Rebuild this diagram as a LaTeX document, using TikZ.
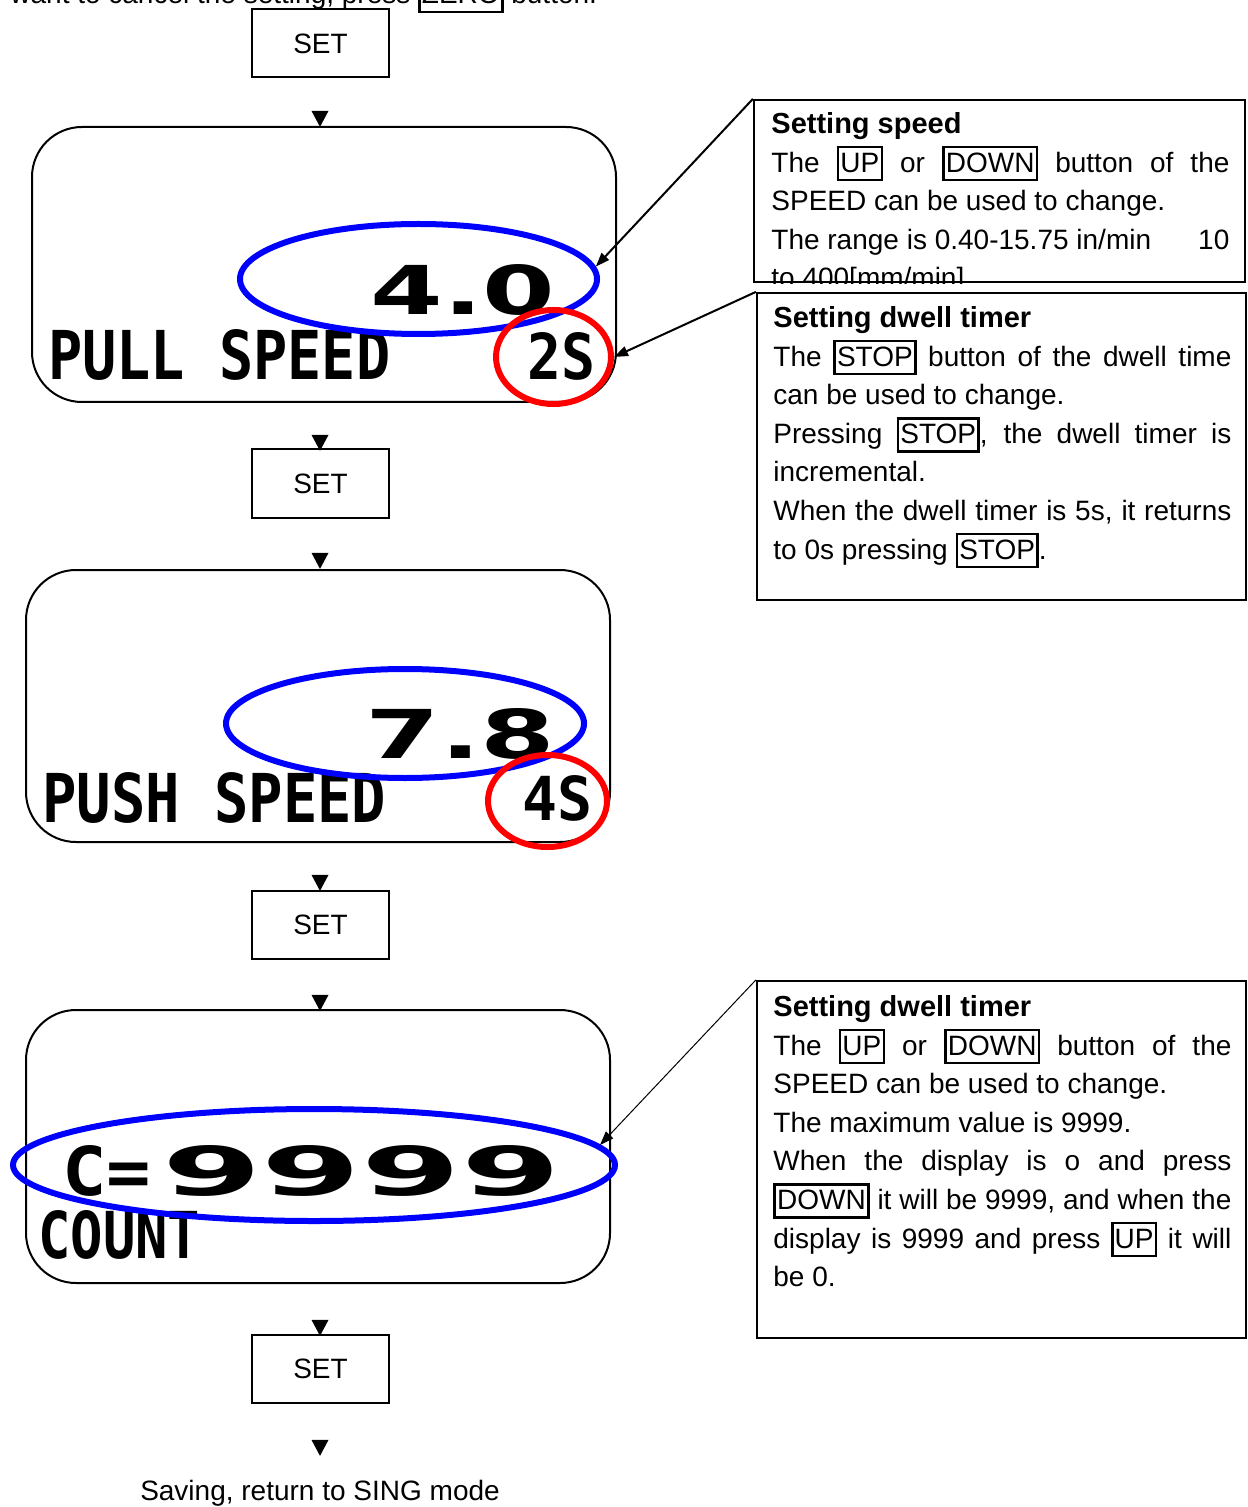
\documentclass[tikz,border=0pt]{standalone}
\usepackage{graphicx}
\usepackage{fontspec}
\setmainfont{Liberation Sans}
\newfontfamily\lcdfont{DejaVu Sans Mono}
\newfontfamily\lcdnumfont{DejaVu Sans}
\usetikzlibrary{arrows.meta,shapes.geometric,fit}
\definecolor{RingBlue}{HTML}{0000FF}
\definecolor{RingRed}{HTML}{FF0000}
\newcommand\btn[1]{{\setlength\fboxsep{0.6pt}\setlength\fboxrule{1.3pt}\fbox{\rule[-0.2em]{0pt}{1em}#1}}}
\newcommand\lcd[3]{\resizebox{#1}{#2}{\lcdfont\bfseries #3}}
\newcommand\lcdnum[3]{\resizebox{#1}{#2}{\lcdnumfont\bfseries #3}}
\newcommand\headfont{\bfseries\fontsize{14.5}{19.3}\selectfont}
\tikzset{
  setbox/.style={draw,line width=1pt,minimum width=68.5pt,minimum height=34pt,inner sep=0},
  downtri/.style={isosceles triangle,isosceles triangle apex angle=50,isosceles triangle stretches=true,shape border rotate=270,fill=black,draw=none,inner sep=0,minimum width=8.5pt,minimum height=8pt},
  display/.style={draw,line width=1pt,rounded corners=25pt,inner sep=0},
  lcdtext/.style={anchor=base west,inner sep=0},
  blueband/.style={ellipse,draw=RingBlue,line width=3pt,inner sep=0},
  redring/.style={ellipse,draw=RingRed,line width=3pt,inner sep=0},
  notebox/.style={draw,line width=1.1pt,inner sep=0},
  notetext/.style={anchor=north west,inner sep=0,text width=229pt,align=justify},
  callout/.style={-{Triangle[length=7pt,width=5pt]},line width=1pt},
  thincallout/.style={-{Triangle[length=7pt,width=5pt]},line width=.5pt}
}

\begin{document}
\begin{tikzpicture}[x=.5pt,y=-.5pt,font=\fontsize{14}{19.3}\selectfont]
  \useasboundingbox (0,0) rectangle (1247,1507);
  % cut-off line from the page above
  \node[anchor=base west,inner sep=0] (hint) at (10,4) {want to cancel the setting, press \btn{ZERO} button.};

  % flow of SET presses
  \node[setbox] (set1) at (320.5,43.5) {SET};
  \node[setbox] (set2) at (320.5,483.5) {SET};
  \node[setbox] (set3) at (320.5,925) {SET};
  \node[setbox] (set4) at (320.5,1369) {SET};
  \foreach \ty [count=\k] in {116,440,558,880,1000,1325,1445}
    \node[downtri] (tri\k) at (320,\ty) {};
  \node[anchor=base] (save) at (320,1500) {Saving, return to SING mode};

  % LCD screens
  \node[display,fit={(32,127) (616,402)}] (pullscreen) {};
  \node[lcdtext] (pulllabel) at (48,380) {\lcd{171pt}{25pt}{PULL SPEED}};
  \node[lcdtext] (pullvalue) at (370,315) {\lcdnum{92.5pt}{25pt}{4.0}};
  \node[lcdtext] (pulldwell) at (527,380) {\lcd{34pt}{23.5pt}{2S}};
  \node[blueband,minimum width=178.5pt,minimum height=55pt] (pullband) at (418.5,279) {};
  \node[redring,minimum width=57.5pt,minimum height=47pt] (pullring) at (553.5,357) {};

  \node[display,fit={(26,570) (610,842)}] (pushscreen) {};
  \node[lcdtext] (pushlabel) at (42,822) {\lcd{172pt}{25pt}{PUSH SPEED}};
  \node[lcdtext] (pushvalue) at (365,758) {\lcdnum{95pt}{25pt}{7.8}};
  \node[lcdtext] (pushdwell) at (522,820) {\lcd{35pt}{22.5pt}{4S}};
  \node[blueband,minimum width=179pt,minimum height=54.5pt] (pushband) at (405,723.5) {};
  \node[redring,minimum width=59.5pt,minimum height=46pt] (pushring) at (547.5,801) {};

  \node[display,fit={(26,1010) (610,1283)}] (countscreen) {};
  \node[lcdtext] (countvalue) at (62,1195) {\lcd{44.5pt}{25pt}{C=}\hspace{5.5pt}\lcdnum{199pt}{25pt}{9999}};
  \node[lcdtext] (countlabel) at (38,1258) {\lcd{81pt}{24pt}{COUNT}};
  \node[blueband,minimum width=301pt,minimum height=56pt] (countband) at (314,1165) {};

  % notes
  \node[notebox,fit={(754,100) (1245,282)}] (speednote) {};
  \begin{scope}
    \clip (speednote.north west) rectangle (speednote.south east);
    \node[notetext] (speedtext) at (771,112) {{\headfont Setting speed}\newline
      The \btn{UP} or \btn{DOWN} button of the\linebreak
      SPEED can be used to change.\newline
      The range is 0.40-15.75 in/min\hfill 10\newline
      to 400[mm/min]};
  \end{scope}

  \node[notebox,fit={(757,293) (1246,600)}] (dwellnote) {};
  \node[notetext] (dwelltext) at (773,306) {{\headfont Setting dwell timer}\newline
    The \btn{STOP} button of the dwell time\linebreak
    can be used to change.\newline
    Pressing \btn{STOP}, the dwell timer is\linebreak
    incremental.\newline
    When the dwell timer is 5s, it returns\linebreak
    to 0s pressing \btn{STOP}.};

  \node[notebox,fit={(757,981) (1246,1338)}] (countnote) {};
  \node[notetext] (counttext) at (773,995) {{\headfont Setting dwell timer}\newline
    The \btn{UP} or \btn{DOWN} button of the\linebreak
    SPEED can be used to change.\newline
    The maximum value is 9999.\newline
    When the display is o and press\linebreak
    \btn{DOWN} it will be 9999, and when the\linebreak
    display is 9999 and press \btn{UP} it will\linebreak
    be 0.};

  \draw[callout] (speednote.north west) -- (pullband.4);
  \draw[callout] (dwellnote.north west) -- (pullring.east);
  \draw[thincallout] (countnote.north west) -- (countband.4);
\end{tikzpicture}
\end{document}
